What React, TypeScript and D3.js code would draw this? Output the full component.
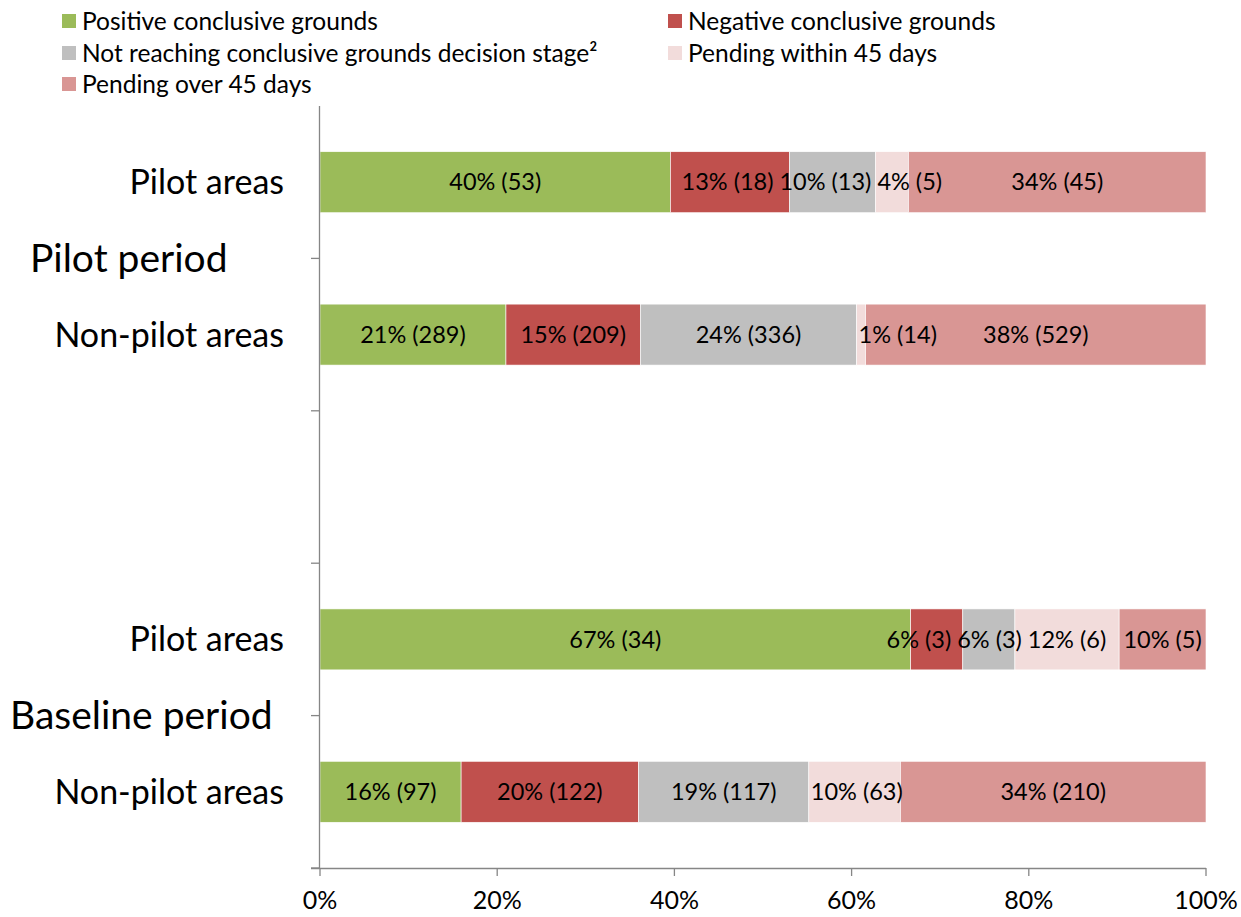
import * as d3 from "d3";
import { useEffect, useRef } from "react";

/* ------------------------------------------------------------------ */
/*  Data                                                               */
/* ------------------------------------------------------------------ */

const SERIES = [
  "Positive conclusive grounds",
  "Negative conclusive grounds",
  "Not reaching conclusive grounds decision stage²",
  "Pending within 45 days",
  "Pending over 45 days",
];
const COLORS = ["#9bbb59", "#c0504d", "#bfbfbf", "#f2dcdb", "#d99694"];

// rows top to bottom; "gap" is the empty slot between the two periods
const ROWS = ["pilotPilot", "pilotNon", "gap", "basePilot", "baseNon"];
const ROW_LABELS = ["Pilot areas", "Non-pilot areas", "", "Pilot areas", "Non-pilot areas"];
const PERIODS = ["Pilot period", "Baseline period"];

// case counts per row, in SERIES order
const PILOT_PILOT = [53, 18, 13, 5, 45];
const PILOT_NON = [289, 209, 336, 14, 529];
const BASE_PILOT = [34, 3, 3, 6, 5];
const BASE_NON = [97, 122, 117, 63, 210];

const COUNTS: (number[] | null)[] = [PILOT_PILOT, PILOT_NON, null, BASE_PILOT, BASE_NON];

const X_TICKS = [0, 0.2, 0.4, 0.6, 0.8, 1];

/* ------------------------------------------------------------------ */
/*  Theme                                                              */
/* ------------------------------------------------------------------ */

const FONT = "Lato, 'Open Sans', sans-serif";
const AXIS = "#868686";
const W = 1241;
const H = 917;

export default function App() {
  const svgRef = useRef<SVGSVGElement>(null);

  useEffect(() => {
    document.body.style.margin = "0";
    const svg = svgRef.current;
    if (!svg) return;

    const sel = d3.select(svg);
    sel.selectAll("*").remove();
    sel.attr("width", W).attr("height", H);

    const x = d3.scaleLinear().domain([0, 1]).range([320, 1206]);
    const y = d3.scaleBand<string>().domain(ROWS).range([106, 868]).padding(0);
    const step = y.step();
    const barH = step * 0.4;

    const ctx = document.createElement("canvas").getContext("2d")!;
    const labelSize = 23.5;
    ctx.font = `${labelSize}px ${FONT}`;

    /* Bars */
    ROWS.forEach((row, ri) => {
      const counts = COUNTS[ri];
      if (!counts) return;
      const total = d3.sum(counts);
      const datum: Record<string, number> = {};
      SERIES.forEach((s, i) => (datum[s] = counts[i] / total));
      const stacked = d3.stack<Record<string, number>>().keys(SERIES)([datum]);
      const y0 = (y(row) ?? 0) + (step - barH) / 2;

      const g = sel.append("g");
      g.selectAll("rect")
        .data(stacked)
        .join("rect")
        .attr("x", (d) => x(d[0][0]))
        .attr("y", y0)
        .attr("width", (d) => x(d[0][1]) - x(d[0][0]))
        .attr("height", barH)
        .attr("fill", (_, i) => COLORS[i])
        .attr("stroke", "#ffffff")
        .attr("stroke-width", 0.6);

      /* Labels: centered; if too wide for the segment, start at segment */
      const labels = stacked.map((d, i) => {
        const text = `${Math.round(counts[i] / total * 100)}% (${counts[i]})`;
        const w = ctx.measureText(text).width;
        const a = x(d[0][0]);
        const b = x(d[0][1]);
        let left = (a + b) / 2 - w / 2;
        if (w > b - a && i > 0) left = a + 2;
        return { text, w, left };
      });
      for (let i = labels.length - 2; i >= 0; i--) {
        const cur = labels[i];
        const next = labels[i + 1];
        const overlap = cur.left + cur.w + 6 - next.left;
        if (overlap > 0) cur.left -= overlap;
      }
      g.selectAll("text")
        .data(labels)
        .join("text")
        .attr("x", (d) => d.left)
        .attr("y", y0 + barH / 2)
        .attr("dy", "0.35em")
        .attr("font-family", FONT)
        .attr("font-size", labelSize)
        .attr("fill", "#000")
        .text((d) => d.text);
    });

    /* Category axis */
    sel.append("line")
      .attr("x1", 319.5).attr("x2", 319.5)
      .attr("y1", 106).attr("y2", 868)
      .attr("stroke", AXIS).attr("stroke-width", 1.3);
    ROWS.forEach((_, i) => {
      const yy = 106 + step * (i + 1);
      sel.append("line")
        .attr("x1", 311).attr("x2", 319.5)
        .attr("y1", yy).attr("y2", yy)
        .attr("stroke", AXIS).attr("stroke-width", 1.3);
    });

    ROWS.forEach((row, i) => {
      if (!ROW_LABELS[i]) return;
      sel.append("text")
        .attr("x", 284)
        .attr("y", (y(row) ?? 0) + step / 2)
        .attr("dy", "0.35em")
        .attr("text-anchor", "end")
        .attr("font-family", FONT)
        .attr("font-size", 34)
        .text(ROW_LABELS[i]);
    });

    const periodY = [106 + step, 106 + step * 4];
    const periodX = [30, 10];
    PERIODS.forEach((p, i) => {
      sel.append("text")
        .attr("x", periodX[i])
        .attr("y", periodY[i])
        .attr("dy", "0.35em")
        .attr("font-family", FONT)
        .attr("font-size", 39)
        .text(p);
    });

    /* Value axis */
    sel.append("line")
      .attr("x1", 311).attr("x2", 1206)
      .attr("y1", 868.5).attr("y2", 868.5)
      .attr("stroke", AXIS).attr("stroke-width", 1.3);
    X_TICKS.forEach((t) => {
      sel.append("line")
        .attr("x1", x(t)).attr("x2", x(t))
        .attr("y1", 868).attr("y2", 876)
        .attr("stroke", AXIS).attr("stroke-width", 1.3);
      sel.append("text")
        .attr("x", x(t))
        .attr("y", 900)
        .attr("dy", "0.35em")
        .attr("text-anchor", "middle")
        .attr("font-family", FONT)
        .attr("font-size", 25)
        .text(d3.format(".0%")(t));
    });

    /* Legend */
    const legendPos = [
      [62, 21], [668, 21], [62, 53], [668, 53], [62, 84],
    ];
    SERIES.forEach((s, i) => {
      const [lx, ly] = legendPos[i];
      sel.append("rect")
        .attr("x", lx).attr("y", ly - 7)
        .attr("width", 14).attr("height", 14)
        .attr("fill", COLORS[i]);
      sel.append("text")
        .attr("x", lx + 20)
        .attr("y", ly)
        .attr("dy", "0.35em")
        .attr("font-family", FONT)
        .attr("font-size", 24.5)
        .text(s);
    });
  }, []);

  return <svg ref={svgRef} style={{ display: "block", background: "#fff" }} />;
}
